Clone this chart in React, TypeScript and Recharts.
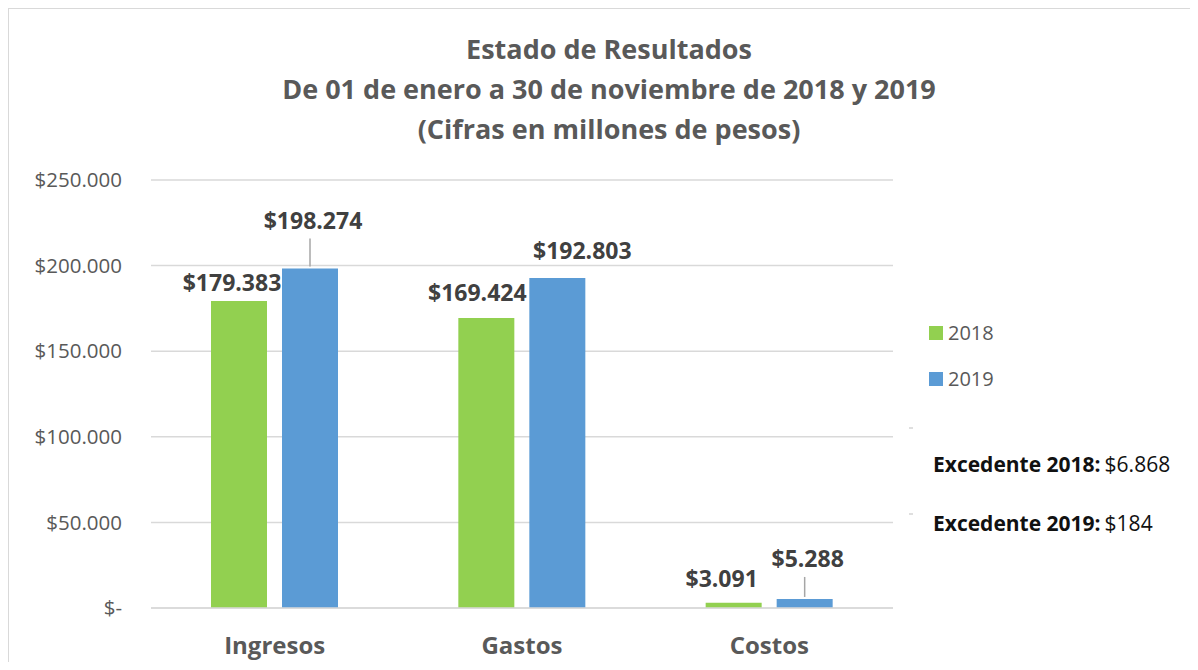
import React from 'react';
import { BarChart, Bar, XAxis, YAxis, CartesianGrid, LabelList } from 'recharts';

const categories = ['Ingresos', 'Gastos', 'Costos'];
const values2018 = [179383, 169424, 3091];
const values2019 = [198274, 192803, 5288];
const yTicks = [0, 50000, 100000, 150000, 200000, 250000];
const titleLines = [
  'Estado de Resultados',
  'De 01 de enero a 30 de noviembre de 2018 y 2019',
  '(Cifras en millones de pesos)',
];
const legendItems = ['2018', '2019'];
const surplus = [
  { label: 'Excedente 2018:', value: '$6.868' },
  { label: 'Excedente 2019:', value: '$184' },
];

const data = categories.map((name, i) => ({ name, y2018: values2018[i], y2019: values2019[i] }));

const GREEN = '#92d050';
const BLUE = '#5b9bd5';
const GRID = '#d9d9d9';
const FONT = '"Open Sans", sans-serif';

// label nudges (dx, dy from bar top), leader = draw a callout line
const labelPos2018 = [
  { dx: -7, dy: -10, leader: false },
  { dx: -9, dy: -17, leader: false },
  { dx: -12, dy: -16, leader: false },
];
const labelPos2019 = [
  { dx: 3, dy: -40, leader: true },
  { dx: 25, dy: -19, leader: false },
  { dx: 3, dy: -32, leader: true },
];

const fmt = (v: number) => (v === 0 ? '$-' : '$' + v.toLocaleString('de-DE'));

const makeLabel = (pos: typeof labelPos2018) => (props: any) => {
  const { x, y, width, value, index } = props;
  const p = pos[index];
  const cx = x + width / 2;
  return (
    <g>
      {p.leader && (
        <line x1={cx} x2={cx} y1={y + p.dy + 10} y2={y - 2} stroke="#a6a6a6" strokeWidth={1.5} />
      )}
      <text
        x={cx + p.dx}
        y={y + p.dy}
        textAnchor="middle"
        fill="#404040"
        fontSize={23}
        fontWeight={700}
        fontFamily={FONT}
      >
        {fmt(value)}
      </text>
    </g>
  );
};

const CategoryTick = ({ x, y, payload }: any) => (
  <text x={x} y={y + 44} textAnchor="middle" fill="#595959" fontSize={24} fontWeight={700} fontFamily={FONT}>
    {payload.value}
  </text>
);

export default function App() {
  return (
    <div
      style={{
        position: 'relative',
        width: 1190,
        height: 654,
        boxSizing: 'border-box',
        borderTop: `1px solid ${GRID}`,
        borderLeft: `1px solid ${GRID}`,
        background: '#fff',
      }}
    >
      <BarChart
        width={1189}
        height={653}
        data={data}
        margin={{ top: 171, right: 305, bottom: 0, left: 0 }}
        barSize={56}
        barGap={15}
      >
        <CartesianGrid vertical={false} stroke={GRID} strokeWidth={1.5} />
        <XAxis
          dataKey="name"
          axisLine={{ stroke: GRID, strokeWidth: 1.5 }}
          tickLine={false}
          tickSize={0}
          height={54}
          tick={<CategoryTick />}
        />
        <YAxis
          width={142}
          domain={[0, 250000]}
          ticks={yTicks}
          axisLine={false}
          tickLine={false}
          tickSize={0}
          tickMargin={29}
          tickFormatter={fmt}
          tick={{ fill: '#595959', fontSize: 20.5, fontFamily: FONT }}
        />
        <Bar dataKey="y2018" name="2018" fill={GREEN} isAnimationActive={false}>
          <LabelList dataKey="y2018" content={makeLabel(labelPos2018)} />
        </Bar>
        <Bar dataKey="y2019" name="2019" fill={BLUE} isAnimationActive={false}>
          <LabelList dataKey="y2019" content={makeLabel(labelPos2019)} />
        </Bar>
      </BarChart>
      <svg
        width={1189}
        height={653}
        style={{ position: 'absolute', left: 0, top: 0, pointerEvents: 'none' }}
      >
        {titleLines.map((t, i) => (
          <text
            key={t}
            x={600}
            y={50 + i * 40}
            textAnchor="middle"
            fill="#595959"
            fontSize={27}
            fontWeight={700}
            fontFamily={FONT}
          >
            {t}
          </text>
        ))}
        {legendItems.map((name, i) => (
          <g key={name}>
            <rect x={920} y={317 + i * 46} width={14} height={14} fill={i === 0 ? GREEN : BLUE} />
            <text x={939} y={331 + i * 46} fill="#595959" fontSize={20} fontFamily={FONT}>
              {name}
            </text>
          </g>
        ))}
        {surplus.map((s, i) => (
          <g key={s.label}>
            <line x1={900} x2={904} y1={419 + i * 86} y2={419 + i * 86} stroke="#bfbfbf" />
            <text x={924} y={463 + i * 59} fill="#111" fontSize={21} fontFamily={FONT}>
              <tspan fontWeight={700}>{s.label}</tspan>
              <tspan dx={4}>{s.value}</tspan>
            </text>
          </g>
        ))}
      </svg>
    </div>
  );
}
